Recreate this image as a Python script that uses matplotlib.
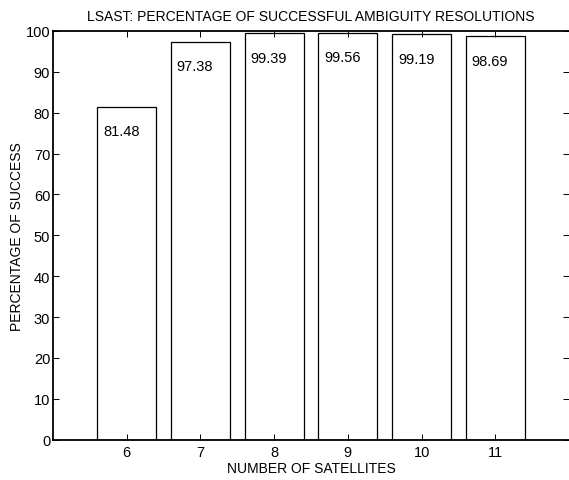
import matplotlib
matplotlib.use("Agg")
import matplotlib.pyplot as plt

satellites = [6, 7, 8, 9, 10, 11]
success = [81.48, 97.38, 99.39, 99.56, 99.19, 98.69]
labels = ["81.48", "97.38", "99.39", "99.56", "99.19", "98.69"]
yticks = list(range(0, 101, 10))

plt.rcParams['font.family'] = ['Liberation Sans', 'DejaVu Sans']

fig = plt.figure(figsize=(5.69, 4.81), dpi=100)
ax = fig.add_axes([53/569, 40.3/481, 516/569, 408.7/481])

ax.bar(satellites, success, width=0.8, color='white', edgecolor='black', linewidth=0.9)
for x, v, s in zip(satellites, success, labels):
    ax.text(x - 0.32, v - 6, s, ha='left', va='center', fontsize=10.5)

ax.set_xlim(5, 12)
ax.set_ylim(0, 100)
ax.set_xticks(satellites)
ax.set_yticks(yticks)
ax.tick_params(direction='in', length=4, width=0.7, labelsize=10.5,
               top=True, right=True, colors='black')
ax.tick_params(axis='y', pad=2)
ax.tick_params(axis='x', pad=4)
for side in ['left', 'bottom', 'top']:
    ax.spines[side].set_linewidth(1.3)
ax.spines['right'].set_visible(False)

ax.set_title("LSAST: PERCENTAGE OF SUCCESSFUL AMBIGUITY RESOLUTIONS", fontsize=10, pad=8)
ax.set_xlabel("NUMBER OF SATELLITES", fontsize=10, labelpad=1)
ax.set_ylabel("PERCENTAGE OF SUCCESS", fontsize=10, labelpad=1)

fig.savefig("out.png", dpi=100)
